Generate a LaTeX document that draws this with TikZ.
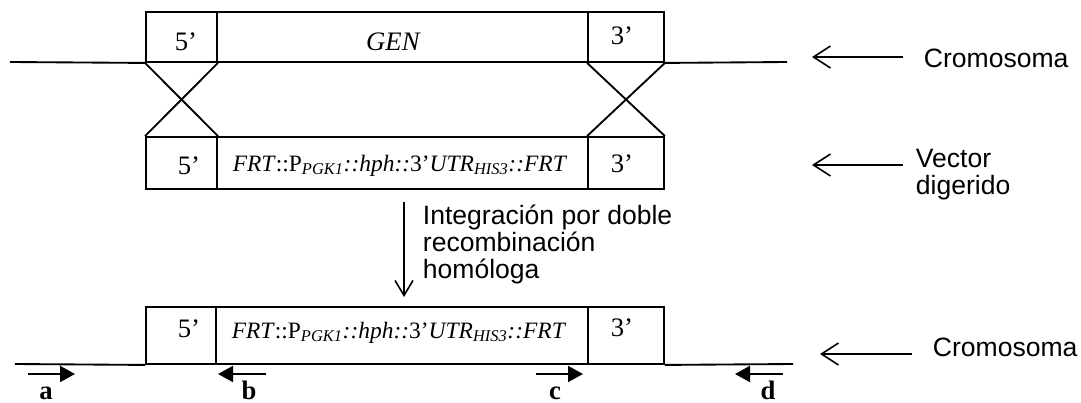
\documentclass[tikz,border=0pt]{standalone}
\usepackage{fontspec}
\setmainfont{Liberation Serif}
\setsansfont{Liberation Sans}
\usetikzlibrary{arrows.meta}
\begin{document}
\begin{tikzpicture}[x=0.75pt,y=-0.75pt,line width=1.4pt,
  box/.style={draw,rectangle,inner sep=0pt,line width=1.4pt},
  seg/.style={font=\fontsize{20}{24}\selectfont,inner sep=0pt,anchor=base},
  cons/.style={font=\fontsize{17.6}{20}\selectfont,inner sep=0pt,anchor=base},
  side/.style={font=\sffamily\fontsize{19.9}{19.9}\selectfont,inner sep=0pt,anchor=base west,align=left},
  primer/.style={font=\bfseries\fontsize{20}{24}\selectfont,inner sep=0pt,anchor=base},
  barb/.style={-{Straight Barb[length=12.75pt,width=16.5pt,line width=1.2pt]},line width=1.2pt},
  tri/.style={-{Triangle[length=11.25pt,width=12pt]},line width=1.5pt}]
\useasboundingbox (0,0) rectangle (1081,403);
% top (chromosome)
\node[box,minimum width=53.25pt,minimum height=37.5pt] (t5) at (181.5,37) {};
\node[box,minimum width=278.25pt,minimum height=37.5pt] (tg) at (402.5,37) {};
\node[box,minimum width=57pt,minimum height=37.5pt] (t3) at (626,37) {};
\node[seg] (t5l) at (186,51) {5’};
\node[seg] (tgl) at (393.5,50.5) {\textit{GEN}};
\node[seg] (t3l) at (622,45) {3’};
\coordinate (tl) at (10,62);
\coordinate (tr) at (787,62);
\draw (tl) -- (t5.south west);
\draw (t3.south east) -- (tr);
% vector
\node[box,minimum width=53.25pt,minimum height=39pt] (v5) at (181.5,163) {};
\node[box,minimum width=278.25pt,minimum height=39pt] (vg) at (402.5,163) {};
\node[box,minimum width=57pt,minimum height=39pt] (v3) at (626,163) {};
\node[seg] (v5l) at (189,174) {5’};
\node[cons] (vgl) at (400,171) {\textit{FRT}::P\textsubscript{\textit{PGK1}}\textit{::hph::}3’\textit{UTR}\textsubscript{\textit{HIS3}}\textit{::FRT}};
\node[seg] (v3l) at (622,172) {3’};
% crossovers
\draw (t5.south west) -- (v5.north east);
\draw (t5.south east) -- (v5.north west);
\draw (t3.south west) -- (v3.north east);
\draw (t3.south east) -- (v3.north west);
% side labels
\node[side] (crom1) at (923,68) {Cromosoma};
\coordinate (c1a) at (903,57);
\coordinate (c1b) at (812,57);
\draw[barb] (c1a) -- (c1b);
\node[side] (vec) at (915,194) {Vector\\digerido};
\coordinate (v1a) at (903,165);
\coordinate (v1b) at (812,165);
\draw[barb] (v1a) -- (v1b);
% integration arrow
\coordinate (ia) at (404,202);
\coordinate (ib) at (404,297);
\draw[-{Straight Barb[length=11.25pt,width=13.5pt,line width=1.2pt]},line width=1.2pt] (ia) -- (ib);
\node[side] (integ) at (422,278) {Integración por doble\\recombinación\\homóloga};
% bottom (integrated)
\node[box,minimum width=52.5pt,minimum height=42.75pt] (b5) at (181,335.5) {};
\node[box,minimum width=279pt,minimum height=42.75pt] (bg) at (402,335.5) {};
\node[box,minimum width=57pt,minimum height=42.75pt] (b3) at (626,335.5) {};
\node[seg] (b5l) at (189,337) {5’};
\node[cons] (bgl) at (399,338) {\textit{FRT}::P\textsubscript{\textit{PGK1}}\textit{::hph::}3’\textit{UTR}\textsubscript{\textit{HIS3}}\textit{::FRT}};
\node[seg] (b3l) at (622,336) {3’};
\coordinate (bl) at (15,364);
\coordinate (br) at (793,364);
\draw (bl) -- (b5.south west);
\draw (b3.south east) -- (br);
\node[side] (crom2) at (932,356) {Cromosoma};
\coordinate (c2a) at (912,354);
\coordinate (c2b) at (820,354);
\draw[barb] (c2a) -- (c2b);
% primers
\coordinate (pa1) at (28,374); \coordinate (pa2) at (75,374);
\coordinate (pb1) at (266,374); \coordinate (pb2) at (218,374);
\coordinate (pc1) at (536,374); \coordinate (pc2) at (583,374);
\coordinate (pd1) at (783,374); \coordinate (pd2) at (735,374);
\draw[tri] (pa1) -- (pa2);
\draw[tri] (pb1) -- (pb2);
\draw[tri] (pc1) -- (pc2);
\draw[tri] (pd1) -- (pd2);
\node[primer] (la) at (46,399) {a};
\node[primer] (lb) at (249,399) {b};
\node[primer] (lc) at (555,399) {c};
\node[primer] (ld) at (768,399) {d};
\end{tikzpicture}
\end{document}
